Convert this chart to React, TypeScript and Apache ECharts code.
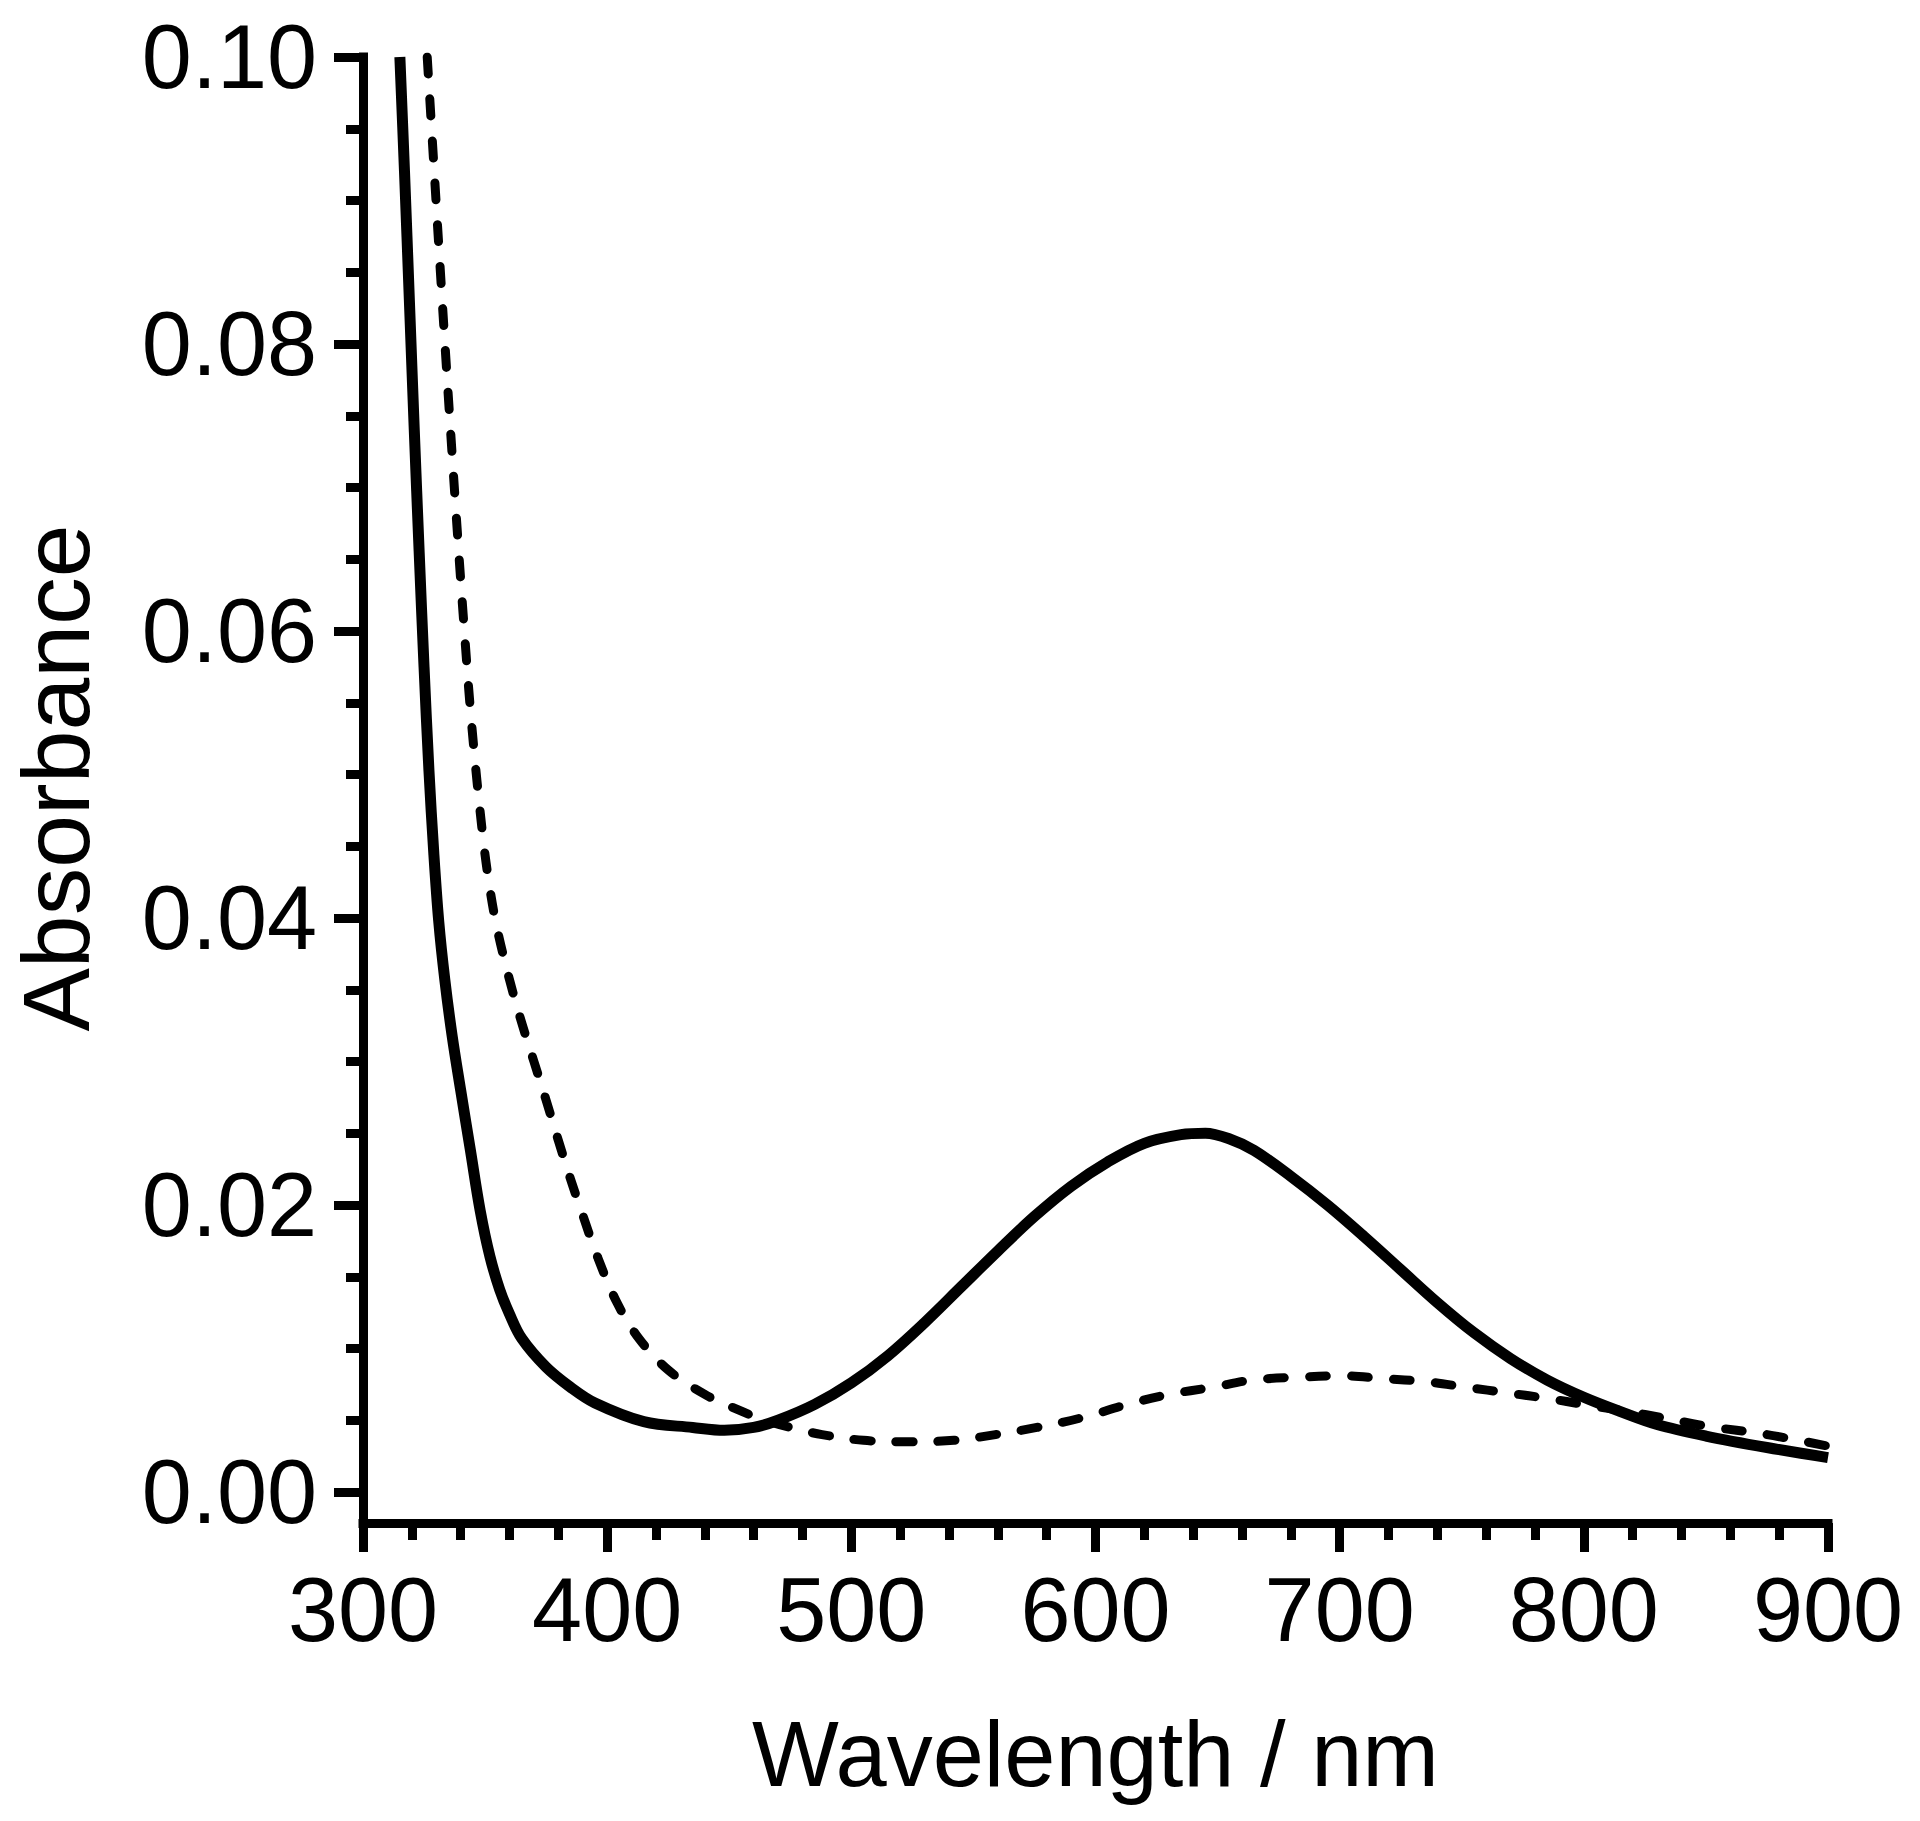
import React, { useEffect, useRef } from "react";
import * as echarts from "echarts";

// Solid spectrum (wavelength nm, absorbance)
const solidWavelength = [315.1, 317, 319, 321, 323, 325, 327, 329, 331, 333.5, 336.5, 340, 344, 348, 352, 356, 360, 365, 375, 385, 395, 415, 435, 448, 460, 470, 485, 500, 515, 530, 545, 560, 575, 590, 605, 620, 635, 645, 655, 665, 680, 695, 710, 725, 740, 755, 770, 785, 800, 815, 830, 850, 875, 900];
const solidAbsorbance = [0.1, 0.092, 0.083, 0.074, 0.0655, 0.0575, 0.0503, 0.0445, 0.0398, 0.0357, 0.0318, 0.028, 0.0238, 0.0196, 0.0164, 0.0141, 0.0124, 0.0107, 0.0087, 0.0073, 0.0062, 0.0049, 0.0045, 0.0043, 0.0045, 0.005, 0.0061, 0.0076, 0.0095, 0.0118, 0.0143, 0.0168, 0.0192, 0.0213, 0.023, 0.0243, 0.0249, 0.025, 0.0246, 0.0238, 0.022, 0.02, 0.0178, 0.0155, 0.0132, 0.0111, 0.0093, 0.0078, 0.0066, 0.0056, 0.0047, 0.0039, 0.0031, 0.0024];

// Dashed spectrum
const dashedWavelength = [326.3, 329, 332, 335, 338, 341, 344.5, 349, 352, 355, 360, 365, 370, 375, 380, 385, 390, 396, 404, 413, 425, 440, 454, 463, 475, 488, 505, 523, 542, 559, 576, 595, 613, 630, 648, 664, 683, 701, 718, 735, 752, 769, 786, 800, 825, 850, 875, 900];
const dashedAbsorbance = [0.1, 0.0925, 0.0842, 0.0762, 0.0685, 0.0612, 0.0535, 0.0458, 0.042, 0.0392, 0.0357, 0.0327, 0.03, 0.0273, 0.0245, 0.0218, 0.0193, 0.0164, 0.0132, 0.0107, 0.0085, 0.0068, 0.0057, 0.0051, 0.0045, 0.004, 0.0036, 0.0035, 0.0036, 0.004, 0.0045, 0.0052, 0.0061, 0.0068, 0.0073, 0.0078, 0.008, 0.0081, 0.0079, 0.0077, 0.0073, 0.0069, 0.0065, 0.0061, 0.0054, 0.0046, 0.004, 0.0032];

const yMajorTicks = [0, 0.02, 0.04, 0.06, 0.08, 0.1];
const yMinorTicks = [0.005, 0.01, 0.015, 0.025, 0.03, 0.035, 0.045, 0.05, 0.055, 0.065, 0.07, 0.075, 0.085, 0.09, 0.095];

const FONT = "'Liberation Sans', Arial, Helvetica, sans-serif";
const Y_MIN = -0.00216;
const Y_MAX = 0.1;

export default function App() {
  const ref = useRef<HTMLDivElement | null>(null);

  useEffect(() => {
    document.body.style.margin = "0";
    if (!ref.current) return;
    const chart = echarts.init(ref.current, null, { renderer: "svg" });
    const black = "#000";
    const solidData = solidWavelength.map((w, i) => [w, solidAbsorbance[i]]);
    const dashedData = dashedWavelength.map((w, i) => [w, dashedAbsorbance[i]]);

    const option: any = {
      animation: false,
      backgroundColor: "#fff",
      grid: {
        left: 363,
        top: 57,
        width: 1465,
        height: 1466,
        containLabel: false,
        outerBoundsMode: "none",
      },
      xAxis: {
        type: "value",
        min: 300,
        max: 900,
        interval: 100,
        name: "Wavelength / nm",
        nameLocation: "middle",
        nameGap: 185,
        nameTextStyle: { fontSize: 92, fontFamily: FONT, color: black },
        axisLine: { show: true, onZero: false, lineStyle: { color: black, width: 9, cap: "square" } },
        axisTick: { show: true, length: 29, lineStyle: { color: black, width: 9 } },
        minorTick: { show: true, splitNumber: 5, length: 17, lineStyle: { color: black, width: 9 } },
        axisLabel: { margin: 42, fontSize: 90, fontFamily: FONT, color: black },
        splitLine: { show: false },
        minorSplitLine: { show: false },
      },
      yAxis: [
        {
          type: "value",
          min: Y_MIN,
          max: Y_MAX,
          position: "left",
          name: "Absorbance",
          nameLocation: "middle",
          nameGap: 260,
          nameRotate: 90,
          nameTextStyle: { fontSize: 95, fontFamily: FONT, color: black, padding: [0, 0, 0, 24] },
          axisLine: { show: true, onZero: false, lineStyle: { color: black, width: 9, cap: "square" } },
          axisTick: { show: true, length: 29, customValues: yMajorTicks, lineStyle: { color: black, width: 9 } },
          axisLabel: {
            show: true,
            customValues: yMajorTicks,
            formatter: (v: number) => v.toFixed(2),
            margin: 46,
            fontSize: 90,
            fontFamily: FONT,
            color: black,
            padding: [0, 0, 10, 0],
          },
          splitLine: { show: false },
        },
        {
          type: "value",
          min: Y_MIN,
          max: Y_MAX,
          position: "left",
          axisLine: { show: false, onZero: false },
          axisTick: { show: true, length: 17, customValues: yMinorTicks, lineStyle: { color: black, width: 9 } },
          axisLabel: { show: false },
          splitLine: { show: false },
        },
      ],
      series: [
        {
          type: "line",
          data: solidData,
          showSymbol: false,
          smooth: 0.35,
          lineStyle: { color: black, width: 11, join: "round" },
          z: 3,
        },
        {
          type: "line",
          data: dashedData,
          showSymbol: false,
          smooth: 0.35,
          lineStyle: { color: black, width: 9, type: [17, 25], cap: "round", join: "round" },
          z: 2,
        },
      ],
    };
    chart.setOption(option);
    return () => chart.dispose();
  }, []);

  return <div ref={ref} style={{ width: 1920, height: 1821 }} />;
}
